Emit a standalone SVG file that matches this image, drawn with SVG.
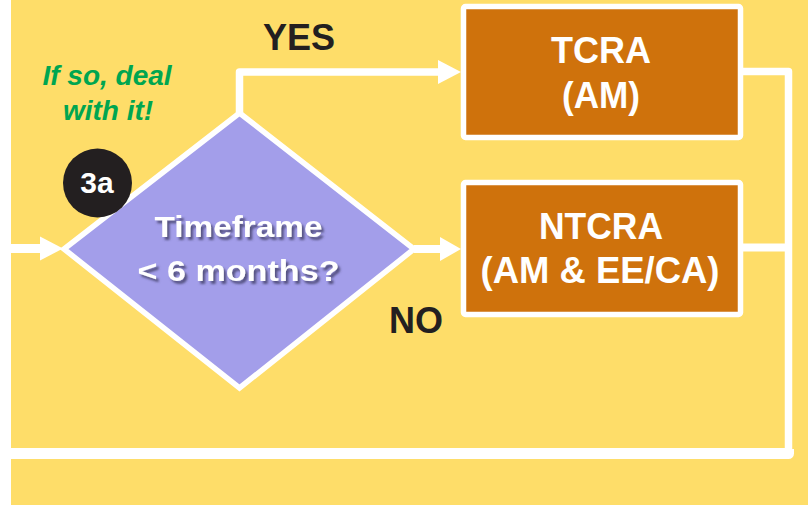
<svg xmlns="http://www.w3.org/2000/svg" width="808" height="505" viewBox="0 0 808 505">
<defs>
<filter id="shadow" x="-10%" y="-30%" width="120%" height="160%">
<feDropShadow dx="2.5" dy="3" stdDeviation="0.8" flood-color="#4A4570" flood-opacity="0.85"/>
</filter>
</defs>
<style>
.box{fill:#CF720C;stroke:#FFFFFF;stroke-width:5.5}
.dia{fill:#A39EEA;stroke:#FFFFFF;stroke-width:5.5;stroke-linejoin:miter}
.ln{fill:none;stroke:#FFFFFF;stroke-linejoin:round}
.ah{fill:#FFFFFF}
.bt{font-family:"Liberation Sans",Arial,sans-serif;font-weight:bold;fill:#FFFFFF;text-anchor:middle}
.lbl{font-family:"Liberation Sans",Arial,sans-serif;font-weight:bold;fill:#231F20}
.note{font-family:"Liberation Sans",Arial,sans-serif;font-weight:bold;font-style:italic;fill:#00A650;text-anchor:middle;font-size:28px}
</style>
<rect x="0" y="0" width="808" height="505" fill="#FEDD69"/>
<rect x="0" y="0" width="11" height="505" fill="#FFFFFF"/>
<g id="connectors">
<path class="ln" d="M11,248.5 H44" stroke-width="9"/>
<polygon class="ah" points="40,236.5 63,248.5 40,260.5"/>
<path class="ln" d="M239.5,114 V72 H442" stroke-width="7.5"/>
<polygon class="ah" points="438,60 461,72 438,84"/>
<path class="ln" d="M414,249 H442" stroke-width="8"/>
<polygon class="ah" points="440,237 461,249 440,261"/>
<path class="ln" d="M742,71.5 H788.5 V453" stroke-width="7.5"/>
<path class="ln" d="M742,247.5 H788.5" stroke-width="8"/>
<path class="ln" d="M788.5,449 V453.5 H0" stroke-width="11"/>
</g>
<g id="decision">
<polygon class="dia" points="239.5,113 414,249 239.5,388 64,249"/>
<g filter="url(#shadow)">
<text class="bt" x="238.5" y="237" font-size="30" textLength="168" lengthAdjust="spacingAndGlyphs">Timeframe</text>
<text class="bt" x="238.5" y="281" font-size="30" textLength="202" lengthAdjust="spacingAndGlyphs">&lt; 6 months?</text>
</g>
</g>
<g id="step-3a">
<circle cx="97.5" cy="183" r="34.5" fill="#231F20"/>
<text class="bt" x="97" y="193" font-size="30">3a</text>
</g>
<g id="tcra">
<rect class="box" x="463.5" y="6.5" width="277" height="131" rx="2"/>
<text class="bt" x="601" y="63" font-size="37" textLength="100" lengthAdjust="spacingAndGlyphs">TCRA</text>
<text class="bt" x="601" y="108" font-size="37" textLength="78" lengthAdjust="spacingAndGlyphs">(AM)</text>
</g>
<g id="ntcra">
<rect class="box" x="463.5" y="182.5" width="277" height="132" rx="2"/>
<text class="bt" x="601" y="239" font-size="37" textLength="124" lengthAdjust="spacingAndGlyphs">NTCRA</text>
<text class="bt" x="600" y="283" font-size="37" textLength="239" lengthAdjust="spacingAndGlyphs">(AM &amp; EE/CA)</text>
</g>
<g id="labels">
<text class="lbl" x="263" y="50" font-size="36">YES</text>
<text class="lbl" x="389" y="333" font-size="36">NO</text>
<text class="note" x="107" y="85">If so, deal</text>
<text class="note" x="108" y="120">with it!</text>
</g>
</svg>
